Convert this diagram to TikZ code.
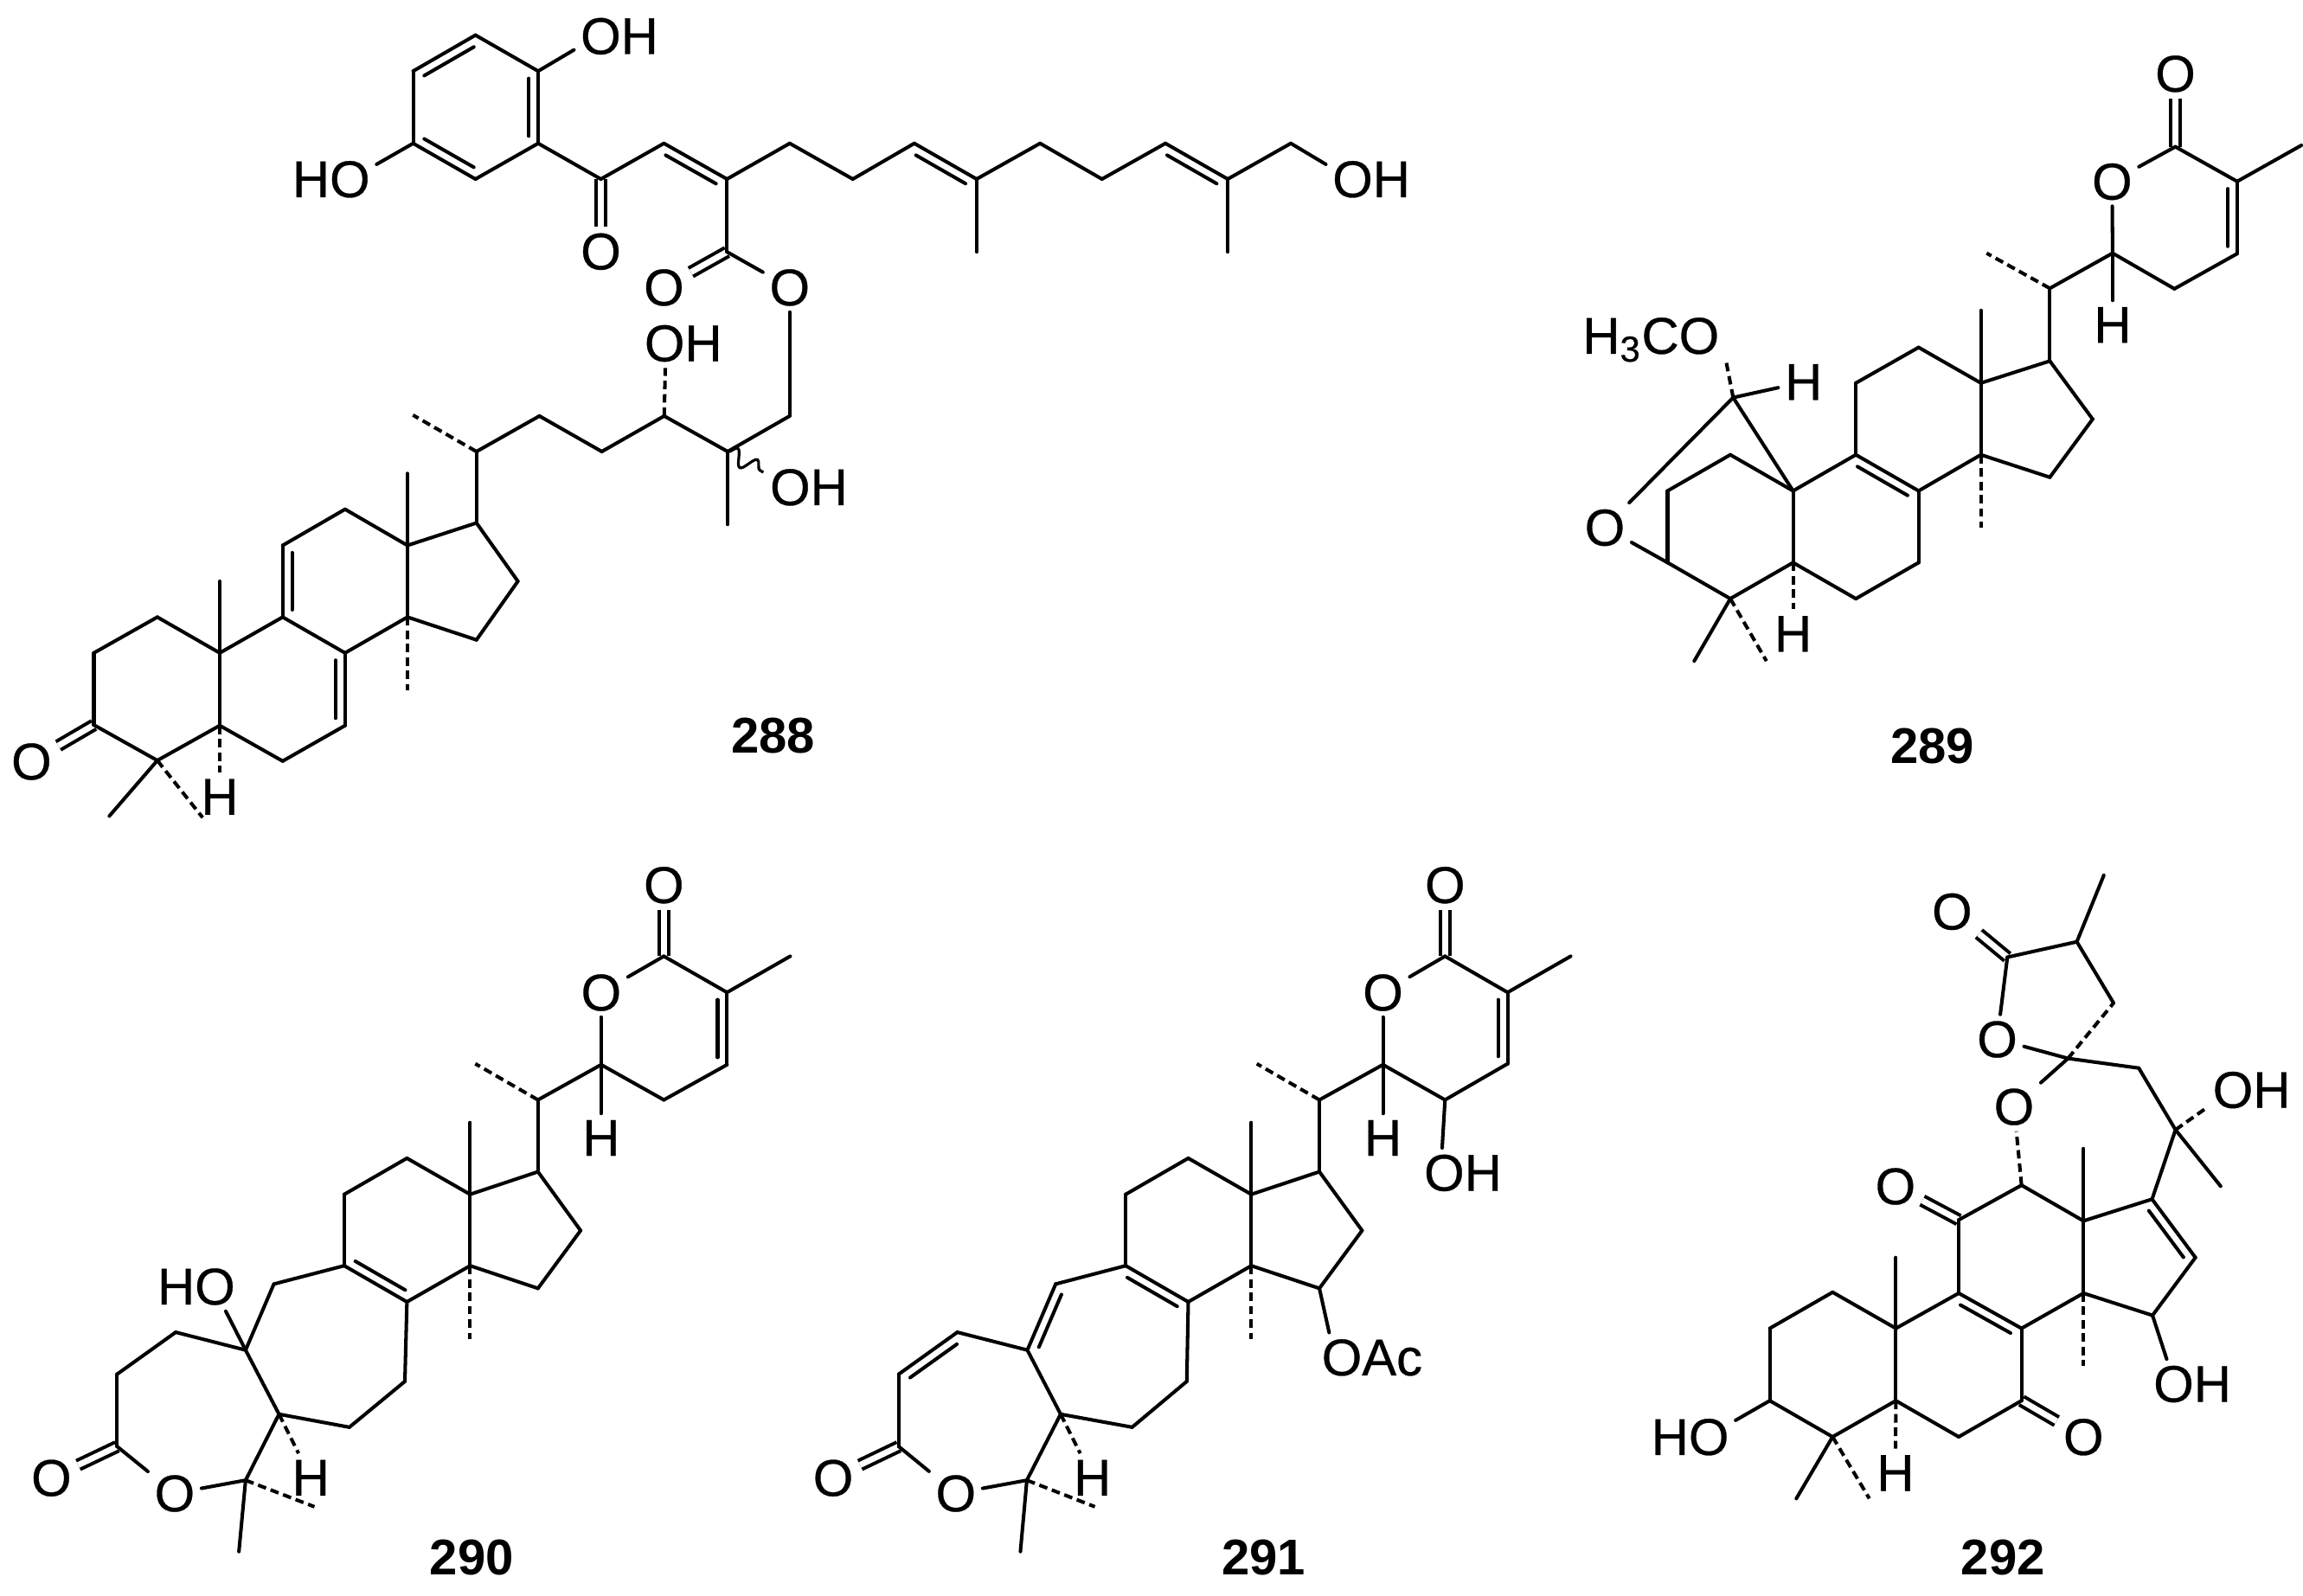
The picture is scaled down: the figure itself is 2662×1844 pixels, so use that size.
\documentclass[tikz,border=0pt]{standalone}
\usepackage{fontspec}
\setmainfont{Liberation Sans}
\newfontfamily\atomfont[FakeBold=0.5]{Liberation Sans}
\usetikzlibrary{calc,decorations.pathmorphing}

\tikzset{
    bond/.style={line width=1.15pt,line cap=round},
    hashbond/.style={line width=1.15pt,dash pattern=on 2.8pt off 1.6pt},
    dblbond/.style={line width=1.15pt,double,double distance=1.95pt},
    atom/.style={font=\atomfont\fontsize{17}{20}\selectfont,inner sep=2pt,text depth=0pt},
    number/.style={font=\fontsize{16.5}{20}\selectfont\bfseries,inner sep=1pt,text depth=0pt}
}
\newcommand{\innerbond}[2]{\draw[bond,shorten <=2.4pt,shorten >=2.4pt]
    ($(#1)!3.1pt!90:(#2)$) -- ($(#2)!3.1pt!-90:(#1)$);}

\begin{document}
\begin{tikzpicture}[x=0.01cm,y=-0.01cm]

    \useasboundingbox (0,0) rectangle (2662,1844);

    % 288
    \begin{scope}[shift={(300,0)},x=0.004464cm,y=-0.003333cm]
        \foreach \n/\x/\y in {r1/558/122,r2/720/247,r3/720/498,r4/558/622,r5/397/498,r6/397/247,
            c1/882/622,c2/1045/498,c3/1208/622,c4/1370/498,c5/1533/622,c6/1208/875,c7/1370/1445}
            \coordinate (\n) at (\x,\y);
        \node[atom] (toh1) at (930,125) {OH};
        \node[atom] (tho) at (185,622) {HO};
        \node[atom] (to1) at (882,873) {O};
        \node[atom] (to2) at (1045,998) {O};
        \node[atom] (to3) at (1370,998) {O};
        \node[atom] (soh1) at (1095,1192) {OH};
    \end{scope}
    \begin{scope}[shift={(1000,0)},x=0.004464cm,y=-0.003333cm]
        \foreach \n/\x/\y in {c8/127/498,c9/288/622,c10/288/875,c11/452/498,c12/612/622,
            c13/776/498,c14/937/622,c15/937/875,c16/1100/498}
            \coordinate (\n) at (\x,\y);
        \node[atom] (toh2) at (1308,622) {OH};
    \end{scope}
    \begin{scope}[shift={(0,450)},x=0.00638cm,y=-0.003509cm]
        \foreach \n/\x/\y in {s1/285/750,s2/170/868,s3/170/1105,s4/285/1222,s5/398/1107,s6/512/1224,
            s7/625/1107,s8/625/868,s9/512/750,s10/398/868,s11/512/514,s12/625/395,s13/738/514,
            s14/738/750,s15/863/825,s16/938/632,s17/863/440,s18/738/277,s19/398/632,s20/863/205,
            s21/748/85,s22/977/88,s23/1090/205,s24/1203/88,s25/1318/205,s27/1318/445,
            s28/198/1405,s29/367/1410,s30/738/990}
            \coordinate (\n) at (\x,\y);
        \node[atom] (so) at (57,1225) {O};
        \node[atom] (sh) at (398,1342) {H};
        \node[atom] (soh2) at (1465,322) {OH};
        \node[number] (n288) at (1400,1140) {288};
    \end{scope}

    \foreach \a/\b in {c1/to1,c6/to2,s3/so}
        \draw[dblbond] (\a) -- (\b);
    \foreach \a/\b in {r1/r2,r2/r3,r3/r4,r4/r5,r5/r6,r6/r1,r2/toh1.197,r5/tho.18,r3/c1,c1/c2,c2/c3,
        c3/c4,c4/c5,c3/c6,c6/to3,to3/c7,c5/c8,c8/c9,c9/c10,c9/c11,c11/c12,c12/c13,c13/c14,c14/c15,
        c14/c16,c16/toh2.162,c7/s25,s1/s2,s2/s3,s3/s4,s4/s5,s5/s10,s10/s1,s10/s9,s9/s11,s11/s12,
        s12/s13,s13/s14,s14/s8,s8/s9,s8/s7,s7/s6,s6/s5,s13/s17,s17/s16,s16/s15,s15/s14,s17/s20,
        s20/s22,s22/s23,s23/s24,s24/s25,s10/s19,s13/s18,s25/s27,s4/s28}
        \draw[bond] (\a) -- (\b);
    \foreach \a/\b in {s24/soh1.234,s20/s21,s14/s30,s5/sh,s4/s29}
        \draw[hashbond] (\a) -- (\b);
    \foreach \a/\b in {r1/r6,r3/r2,r5/r4,c3/c2,c9/c8,c14/c13,s11/s9,s7/s8}
        {\innerbond{\a}{\b}}
    \draw[line width=0.9pt,decorate,decoration={snake,amplitude=2.6pt,segment length=7.5pt}]
        (s25) -- (soh2.162);

    % 289
    \begin{scope}[shift={(1800,0)},x=0.005498cm,y=-0.00542cm]
        \foreach \n/\x/\y in {u1/364/970,u2/232/1047,u3/232/1200,u4/364/1277,u5/496/1200,u6/628/1277,
            u7/760/1200,u8/760/1047,u9/628/970,u10/496/1047,u11/628/817,u12/760/741,u13/891/817,
            u14/891/970,u15/1036/1018,u16/1126/894,u17/1036/770,u18/891/662,u19/370/848,u20/1036/615,
            u21/903/540,u22/1168/540,u23/1300/313,u24/1430/387,u25/1430/541,u26/1298/616,u27/1565/310,
            u28/288/1410,u29/440/1410,u30/891/1125}
            \coordinate (\n) at (\x,\y);
        \node[atom] (uo1) at (1167,387) {O};
        \node[atom] (uo2) at (1300,157) {O};
        \node[atom] (uo3) at (100,1125) {O};
        \node[atom] (uh1) at (1168,693) {H};
        \node[atom] (uh2) at (518,815) {H};
        \node[atom] (uh3) at (496,1352) {H};
        \node[atom] (umeo) at (197,716) {H\textsubscript{3}CO};
        \node[number] (n289) at (789,1591) {289};
    \end{scope}

    \draw[dblbond] (u23) -- (uo2);
    \foreach \a/\b in {u1/u2,u2/u3,u3/u4,u4/u5,u5/u10,u10/u1,u10/u9,u9/u11,u11/u12,u12/u13,u13/u14,
        u14/u8,u8/u9,u8/u7,u7/u6,u6/u5,u13/u17,u17/u16,u16/u15,u15/u14,u17/u20,u20/u22,u22/uo1,
        uo1/u23,u23/u24,u24/u25,u25/u26,u26/u22,u24/u27,u13/u18,u22/uh1,u4/u28,u19/uh2,u19/u10,
        u19/uo3,uo3/u3}
        \draw[bond] (\a) -- (\b);
    \foreach \a/\b in {u20/u21,u14/u30,u5/uh3,u4/u29,u19/umeo.south east}
        \draw[hashbond] (\a) -- (\b);
    \foreach \a/\b in {u8/u9,u25/u24}
        {\innerbond{\a}{\b}}

    % 290
    \begin{scope}[shift={(0,970)},x=0.005931cm,y=-0.005574cm]
        \foreach \n/\x/\y in {v1/342/1023,v2/228/1110,v3/228/1260,v4/478/1330,v5/543/1193,v6/680/1220,
            v7/788/1125,v8/792/960,v9/670/885,v10/478/1060,v11/670/737,v12/792/662,v13/915/737,
            v14/915/885,v15/1047/932,v16/1130/812,v17/1047/690,v18/915/588,v19/533/923,v20/1047/541,
            v21/925/466,v22/1170/468,v23/1292/243,v24/1415/318,v25/1415/468,v26/1292/541,v27/1538/243,
            v28/465/1478,v29/612/1385,v30/915/1037}
            \coordinate (\n) at (\x,\y);
        \node[atom] (vo1) at (1170,318) {O};
        \node[atom] (vo2) at (1292,95) {O};
        \node[atom] (vo3) at (340,1357) {O};
        \node[atom] (vo4) at (100,1325) {O};
        \node[atom] (vh1) at (1170,620) {H};
        \node[atom] (vh2) at (605,1325) {H};
        \node[atom] (vho) at (382,928) {HO};
        \node[number] (n290) at (918,1490) {290};
    \end{scope}

    \foreach \a/\b in {v23/vo2,v3/vo4}
        \draw[dblbond] (\a) -- (\b);
    \foreach \a/\b in {v1/v2,v2/v3,v3/vo3,vo3/v4,v4/v5,v5/v10,v10/v1,v10/v19,v19/v9,v9/v11,v11/v12,
        v12/v13,v13/v14,v14/v8,v8/v9,v8/v7,v7/v6,v6/v5,v13/v17,v17/v16,v16/v15,v15/v14,v17/v20,
        v20/v22,v22/vo1,vo1/v23,v23/v24,v24/v25,v25/v26,v26/v22,v24/v27,v13/v18,v22/vh1,v4/v28,
        v10/vho.-40}
        \draw[bond] (\a) -- (\b);
    \foreach \a/\b in {v20/v21,v14/v30,v5/vh2,v4/v29}
        \draw[hashbond] (\a) -- (\b);
    \foreach \a/\b in {v9/v8,v25/v24}
        {\innerbond{\a}{\b}}

    % 291
    \begin{scope}[shift={(920,970)},x=0.00574cm,y=-0.005574cm]
        \foreach \n/\x/\y in {w1/325/1023,w2/207/1110,w3/207/1260,w4/465/1330,w5/533/1193,w6/677/1220,
            w7/787/1125,w8/790/960,w9/664/885,w10/466/1060,w11/664/737,w12/790/662,w13/917/737,
            w14/917/885,w15/1054/932,w16/1140/812,w17/1054/690,w18/917/588,w19/523/923,w20/1054/541,
            w21/928/466,w22/1182/468,w23/1307/243,w24/1433/318,w25/1433/466,w26/1307/541,w27/1560/243,
            w28/452/1478,w29/602/1385,w30/917/1037}
            \coordinate (\n) at (\x,\y);
        \node[atom] (wo1) at (1182,318) {O};
        \node[atom] (wo2) at (1307,95) {O};
        \node[atom] (wo3) at (322,1357) {O};
        \node[atom] (wo4) at (75,1325) {O};
        \node[atom] (wh1) at (1182,620) {H};
        \node[atom] (wh2) at (597,1325) {H};
        \node[atom] (woh) at (1343,692) {OH};
        \node[atom] (woac) at (1160,1075) {OAc};
        \node[number] (n291) at (942,1490) {291};
    \end{scope}

    \foreach \a/\b in {w23/wo2,w3/wo4}
        \draw[dblbond] (\a) -- (\b);
    \foreach \a/\b in {w1/w2,w2/w3,w3/wo3,wo3/w4,w4/w5,w5/w10,w10/w1,w10/w19,w19/w9,w9/w11,w11/w12,
        w12/w13,w13/w14,w14/w8,w8/w9,w8/w7,w7/w6,w6/w5,w13/w17,w17/w16,w16/w15,w15/w14,w17/w20,
        w20/w22,w22/wo1,wo1/w23,w23/w24,w24/w25,w25/w26,w26/w22,w24/w27,w13/w18,w22/wh1,w4/w28,
        w26/woh.130,w15/woac.150}
        \draw[bond] (\a) -- (\b);
    \foreach \a/\b in {w20/w21,w14/w30,w5/wh2,w4/w29}
        \draw[hashbond] (\a) -- (\b);
    \foreach \a/\b in {w8/w9,w25/w24,w19/w10,w1/w2}
        {\innerbond{\a}{\b}}

    % 292
    \begin{scope}[shift={(1860,970)},x=0.005115cm,y=-0.005574cm]
        \foreach \n/\x/\y in {z1/505/940,z2/363/1015,z3/363/1165,z4/505/1240,z5/648/1165,z6/790/1240,
            z7/932/1165,z8/932/1015,z9/790/942,z10/648/1015,z11/790/790,z12/932/718,z13/1072/792,
            z14/1072/942,z15/1228/988,z16/1325/868,z17/1227/747,z18/1072/642,z19/648/868,z20/1280/603,
            z21/1382/720,z22/1197/475,z23/1037/455,z24/1140/340,z25/1057/213,z26/900/245,z27/1118/75,
            z28/423/1368,z29/588/1368,z30/1072/1092}
            \coordinate (\n) at (\x,\y);
        \node[atom] (zho) at (183,1240) {HO};
        \node[atom] (zh) at (647,1315) {H};
        \node[atom] (zo1) at (647,720) {O};
        \node[atom] (zo2) at (915,555) {O};
        \node[atom] (zo3) at (1072,1240) {O};
        \node[atom] (zo4) at (877,415) {O};
        \node[atom] (zo5) at (775,150) {O};
        \node[atom] (zoh1) at (1318,1130) {OH};
        \node[atom] (zoh2) at (1452,520) {OH};
        \node[number] (n292) at (890,1490) {292};
    \end{scope}

    \foreach \a/\b in {z11/zo1,z7/zo3,z26/zo5}
        \draw[dblbond] (\a) -- (\b);
    \foreach \a/\b in {z1/z2,z2/z3,z3/z4,z4/z5,z5/z10,z10/z1,z10/z19,z10/z9,z9/z8,z9/z11,z11/z12,
        z12/z13,z13/z18,z13/z14,z14/z8,z8/z7,z7/z6,z6/z5,z13/z17,z17/z16,z16/z15,z15/z14,z17/z20,
        z20/z21,z20/z22,z22/z23,z23/zo4,zo4/z26,z26/z25,z25/z24,z25/z27,z23/zo2,z3/zho.20,z4/z28,
        z15/zoh1.136}
        \draw[bond] (\a) -- (\b);
    \foreach \a/\b in {z4/z29,z5/zh,z12/zo2,z14/z30,z20/zoh2.202,z23/z24}
        \draw[hashbond] (\a) -- (\b);
    \foreach \a/\b in {z8/z9,z16/z17}
        {\innerbond{\a}{\b}}

\end{tikzpicture}
\end{document}
